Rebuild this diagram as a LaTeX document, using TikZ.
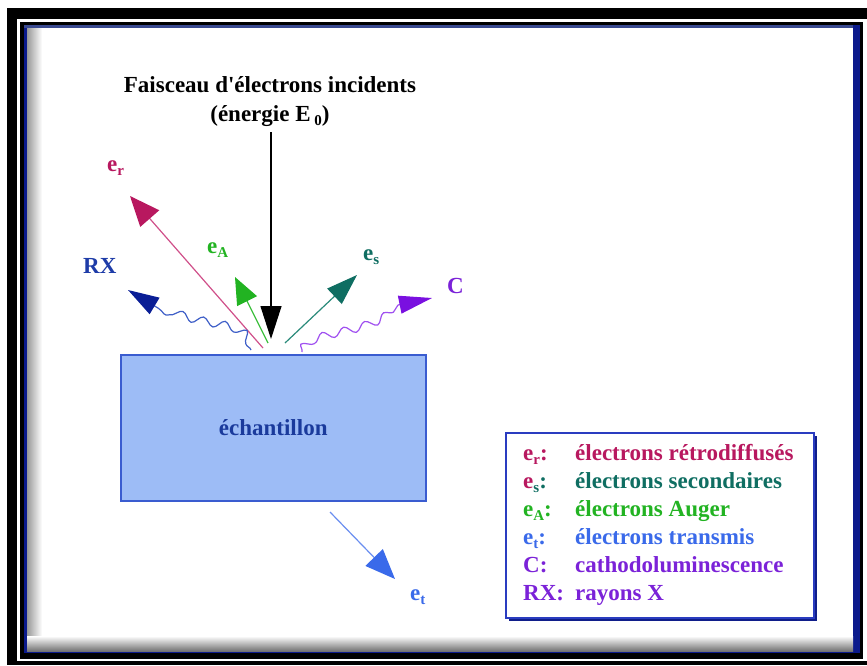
\documentclass[tikz,border=0pt]{standalone}
\usepackage{fontspec}
\setmainfont{Liberation Serif}
\usetikzlibrary{arrows.meta,decorations.pathmorphing}
\definecolor{crim}{HTML}{B8185F}
\definecolor{crimline}{HTML}{D0508A}
\definecolor{tealc}{HTML}{0F6E62}
\definecolor{tealline}{HTML}{2A8A7A}
\definecolor{grn}{HTML}{22B322}
\definecolor{grnline}{HTML}{40C040}
\definecolor{tblue}{HTML}{3A6AEA}
\definecolor{tblueline}{HTML}{6A8EF0}
\definecolor{purp}{HTML}{7B22D8}
\definecolor{purpline}{HTML}{A050F0}
\definecolor{purphead}{HTML}{7A10E0}
\definecolor{rxblue}{HTML}{1E3CA8}
\definecolor{rxhead}{HTML}{0A1E96}
\definecolor{rxline}{HTML}{4060C8}
\definecolor{samplefill}{HTML}{9DBCF6}
\definecolor{sampleedge}{HTML}{3A5CD0}
\definecolor{sampletext}{HTML}{1A3A9C}
\definecolor{legedge}{HTML}{2A3CC0}
\definecolor{legshadow}{HTML}{101E8A}
\definecolor{frameblue}{HTML}{0B1A8C}
\definecolor{frametop}{HTML}{3A4A90}
\newcommand\sbs[1]{\raisebox{-0.4ex}{\fontsize{15}{15}\selectfont #1}}
\begin{document}
\begin{tikzpicture}[x=1pt,y=-1pt,
  font=\fontsize{23}{27}\selectfont\bfseries,
  lbl/.style={anchor=base west,inner sep=0pt},
  leg/.style={anchor=base west,inner sep=0pt},
  ray/.style={line width=1.2pt},
  wave/.style={line width=1.2pt,decorate,decoration={snake,amplitude=4pt,segment length=22pt}}]
% frame
\useasboundingbox (0,0) rectangle (867,665);
\fill[white] (0,0) rectangle (867,665);
\fill[black] (7,8) rectangle (867,665);
\fill[white] (17,19) rectangle (867,661);
\fill[black] (20,22) rectangle (863,659);
\fill[frameblue] (24,25) rectangle (860,653);
\fill[frametop] (24,25) rectangle (853,28);
\fill[white] (27,28) rectangle (853,651);
\shade[left color=black!40,right color=white] (27,28) rectangle (42,651);
\shade[top color=white,bottom color=black!55] (27,636) rectangle (853,651);
% title
\node[anchor=base,inner sep=0pt] (title) at (270,92) {Faisceau d\textquotesingle électrons incidents};
\node[anchor=base,inner sep=0pt] (title2) at (270,121) {(énergie E\,\sbs{0})};
% sample
\node[draw=sampleedge,line width=1.5pt,fill=samplefill,minimum width=305pt,minimum height=146pt,
  text=sampletext,inner sep=0pt,anchor=north west] (sample) at (120,354) {échantillon};
% coordinates
\coordinate (beamtop) at (271,132);
\coordinate (beamtip) at (271,339);
\coordinate (rs) at (263,348); \coordinate (rt) at (130,196);
\coordinate (as) at (268,343); \coordinate (atip) at (235,277);
\coordinate (ss) at (285,343); \coordinate (stip) at (357,275);
\coordinate (ts) at (330,512); \coordinate (ttip) at (395,579);
\coordinate (xs) at (251,350); \coordinate (xb) at (158,308); \coordinate (xt) at (128,290);
\coordinate (cs) at (302,352); \coordinate (cb) at (398,305); \coordinate (ct) at (432,298);
% rays
\draw[ray,black,-{Triangle[length=33pt,width=21pt]}] (beamtop) -- (beamtip);
\draw[ray,crimline,-{Triangle[length=30pt,width=25pt,color=crim]}] (rs) -- (rt);
\draw[ray,grnline,-{Triangle[length=27pt,width=22pt,color=grn]}] (as) -- (atip);
\draw[ray,tealline,-{Triangle[length=31pt,width=21pt,color=tealc]}] (ss) -- (stip);
\draw[ray,tblueline,-{Triangle[length=30pt,width=24pt,color=tblue]}] (ts) -- (ttip);
\draw[wave,rxline] (xs) .. controls (246,322) and (195,336) .. (xb);
\draw[ray,rxline,-{Triangle[length=31pt,width=19pt,color=rxhead]}] (xb) -- (xt);
\draw[wave,purpline] (cs) .. controls (310,332) and (378,340) .. (cb);
\draw[ray,purpline,-{Triangle[length=33pt,width=18pt,color=purphead]}] (cb) -- (ct);
% labels
\node[lbl,text=crim] (lr) at (107,171) {e\sbs{r}};
\node[lbl,text=grn] (la) at (207,253) {e\sbs{A}};
\node[lbl,text=tealc] (ls) at (363,260) {e\sbs{s}};
\node[lbl,text=rxblue] (lx) at (83,273) {RX};
\node[lbl,text=purp] (lc) at (447,293) {C};
\node[lbl,text=tblue] (lt) at (410,600) {e\sbs{t}};
% legend
\fill[legshadow] (509,436) rectangle (817,621);
\node[draw=legedge,line width=1.5pt,fill=white,minimum width=308pt,minimum height=185pt,
  inner sep=0pt,anchor=north west] (legend) at (505,432) {};
\node[leg,text=crim] (k1) at (523,460) {e\sbs{r}:};
\node[leg,text=crim] (d1) at (575,460) {électrons rétrodiffusés};
\node[leg,text=tealc] (k2) at (523,488) {\textcolor{crim}{e}\sbs{s}:};
\node[leg,text=tealc] (d2) at (575,488) {électrons secondaires};
\node[leg,text=grn] (k3) at (523,516) {e\sbs{A}:};
\node[leg,text=grn] (d3) at (575,516) {électrons Auger};
\node[leg,text=tblue] (k4) at (523,544) {e\sbs{t}:};
\node[leg,text=tblue] (d4) at (575,544) {électrons transmis};
\node[leg,text=purp] (k5) at (523,572) {C:};
\node[leg,text=purp] (d5) at (575,572) {cathodoluminescence};
\node[leg,text=purp] (k6) at (523,600) {RX:};
\node[leg,text=purp] (d6) at (575,600) {rayons X};
\end{tikzpicture}
\end{document}
